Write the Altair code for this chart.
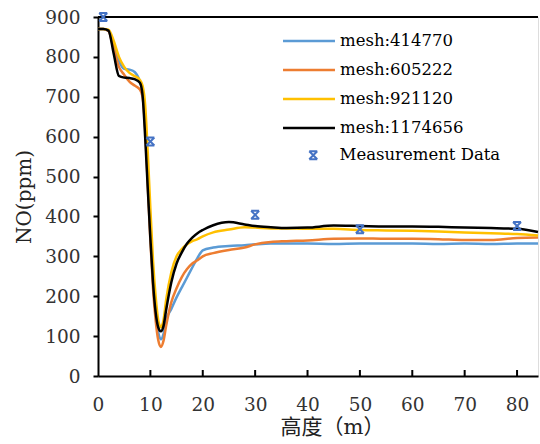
import altair as alt
import pandas as pd

# ---------------- data ----------------
x_pos = [0, 1, 2, 3, 4, 5, 6, 7, 8, 8.5, 9, 9.5, 10, 10.5, 11, 11.5, 12, 12.5, 13, 14, 15,
         16, 17, 18, 19, 20, 22, 25, 28, 30, 33, 36, 40, 45, 50, 55, 60, 65, 70, 75, 80, 84]

mesh_414770 = [870, 870, 866, 830, 790, 770, 768, 762, 738, 715, 640, 500, 360, 240, 160, 110, 92, 105, 140, 168, 197,
               222, 247, 272, 296, 315, 322, 326, 328, 330, 332, 332, 332, 331, 332, 332, 332, 331, 332, 331, 332, 332]
mesh_605222 = [870, 870, 865, 820, 775, 755, 738, 728, 718, 700, 620, 480, 340, 220, 140, 90, 73, 88, 125, 185, 220,
               248, 268, 282, 290, 300, 308, 316, 322, 330, 336, 338, 340, 344, 345, 344, 344, 343, 341, 341, 346, 347]
mesh_921120 = [870, 870, 868, 840, 800, 775, 760, 752, 742, 728, 680, 560, 420, 290, 200, 140, 122, 140, 190, 260, 300,
               318, 330, 338, 343, 350, 360, 367, 373, 372, 370, 370, 369, 369, 366, 365, 364, 362, 360, 358, 356, 352]
mesh_1174656 = [870, 870, 866, 808, 752, 748, 747, 744, 735, 705, 600, 470, 345, 235, 160, 122, 112, 125, 165, 235, 282,
                310, 332, 347, 358, 366, 378, 386, 380, 376, 373, 371, 372, 377, 376, 375, 375, 374, 372, 371, 369, 361]

series_names = ["mesh:414770", "mesh:605222", "mesh:921120", "mesh:1174656"]
series_colors = ["#5B9BD5", "#ED7D31", "#FFC000", "#000000"]

meas_x = [1, 10, 30, 50, 80]
meas_y = [900, 588, 404, 368, 376]
meas_name = "Measurement Data"

x_ticks = [0, 10, 20, 30, 40, 50, 60, 70, 80]
y_ticks = [0, 100, 200, 300, 400, 500, 600, 700, 800, 900]

# ---------------- tables ----------------
rows = []
for name, vals in zip(series_names, [mesh_414770, mesh_605222, mesh_921120, mesh_1174656]):
    for xv, yv in zip(x_pos, vals):
        rows.append({"x": xv, "y": yv, "series": name})
lines_df = pd.DataFrame(rows)
meas_df = pd.DataFrame({"x": meas_x, "y": meas_y, "name": meas_name})
ticks_df = pd.DataFrame({"t": x_ticks[1:]})

SERIF = "DejaVu Serif"
CJK = "DejaVu Serif, Noto Sans CJK SC"

xscale = alt.Scale(domain=[0, 84], nice=False, zero=False)
yscale = alt.Scale(domain=[0, 900], nice=False)

x_axis = alt.Axis(values=x_ticks, title="高度（m）", titleFont=CJK, titleFontSize=21,
                  titlePadding=3, titleX=234, labelPadding=19, tickSize=0,
                  labelOverlap=False)
y_axis = alt.Axis(values=y_ticks, title="NO(ppm)", titleFont=SERIF, titleFontSize=20,
                  titlePadding=10, labelPadding=13, tickSize=5, labelOverlap=False)

X = alt.X("x:Q", scale=xscale, axis=x_axis)
Y = alt.Y("y:Q", scale=yscale, axis=y_axis)

lines = alt.Chart(lines_df).mark_line(strokeWidth=2.5, interpolate="monotone").encode(
    x=X, y=Y,
    color=alt.Color("series:N", sort=series_names,
                    scale=alt.Scale(domain=series_names, range=series_colors),
                    legend=alt.Legend(orient="none", legendX=184, legendY=14, title=None,
                                      symbolType="M-3,0H3", symbolSize=300, symbolStrokeWidth=2.5,
                                      labelFont=SERIF, labelFontSize=16.5, labelColor="black",
                                      labelLimit=400,
                                      rowPadding=10, labelOffset=21, symbolOffset=17)),
    detail="series:N",
)

xmark = "M-1,-1H1M-1,1H1M-1,-1L1,1M1,-1L-1,1"
points = alt.Chart(meas_df).mark_point(filled=False, strokeWidth=2, size=64, opacity=1).encode(
    x=X, y=Y,
    shape=alt.Shape("name:N", scale=alt.Scale(domain=[meas_name], range=[xmark]),
                    legend=alt.Legend(orient="none", legendX=207, legendY=130, title=None,
                                      symbolSize=64, symbolStrokeWidth=2, symbolStrokeColor="#4472C4",
                                      symbolFillColor="transparent",
                                      labelFont=SERIF, labelFontSize=16.5, labelColor="black",
                                      labelLimit=400, labelOffset=18)),
    color=alt.value("#4472C4"),
)

top_line = alt.Chart(pd.DataFrame({"y": [900]})).mark_rule(color="black", strokeWidth=2).encode(
    y=Y
)

xticks = alt.Chart(ticks_df).mark_rule(color="black", strokeWidth=2).encode(
    x=alt.X("t:Q", scale=xscale, axis=x_axis),
    y=alt.value(359),
    y2=alt.value(353),
)

chart = alt.layer(top_line, xticks, lines, points).properties(
    width=440, height=359,
    padding={"left": 98, "top": 17, "right": 2, "bottom": 68},
    autosize="none",
).configure_view(stroke=None).configure(background="white").configure_axis(
    labelFont=SERIF, labelFontSize=18.5, labelColor="#333",
    titleFontWeight="normal", titleColor="#222",
    domainColor="black", domainWidth=2, tickColor="black", tickWidth=2,
    grid=False, labelFlush=False,
)

chart.save("out.html", embed_options={"renderer": "svg", "actions": False})
